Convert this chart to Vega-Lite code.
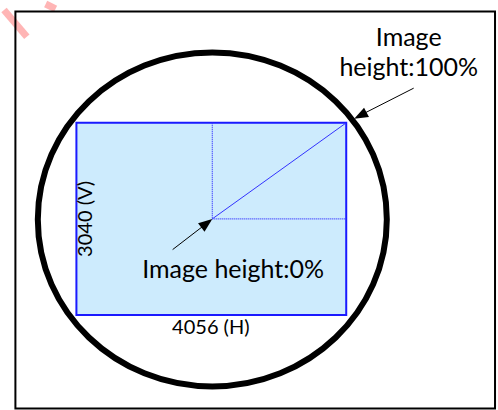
{
  "$schema": "https://vega.github.io/schema/vega-lite/v6.json",
  "width": 498,
  "height": 410,
  "autosize": {"type": "fit", "contains": "padding"},
  "padding": 0,
  "background": "white",
  "config": {"view": {"stroke": null}},
  "datasets": {
    "watermark": [{"x": 0, "y": 6, "x2": 23, "y2": 33}, {"x": 42, "y": 0, "x2": 52, "y2": 5}],
    "frame": [{"x": 11.5, "y": 7.5, "x2": 495, "y2": 408.5}],
    "circle": [{"x": 210, "y": 217.5}],
    "sensor": [{"x": 73, "y": 120, "x2": 345, "y2": 314}],
    "dotted": [{"x": 210, "y": 120, "x2": 210, "y2": 217}, {"x": 210, "y": 217, "x2": 345, "y2": 217}],
    "diag": [{"x": 210, "y": 217, "x2": 345, "y2": 120}],
    "arrows": [{"x": 170, "y": 248, "x2": 205, "y2": 221}, {"x": 413, "y": 85, "x2": 358, "y2": 113}],
    "tip0": [{"x": 210, "y": 217}],
    "tip100": [{"x": 353, "y": 116}],
    "labels": [
      {"x": 231, "y": 277, "text": "Image height:0%"},
      {"x": 408, "y": 42, "text": "Image"},
      {"x": 408, "y": 73, "text": "height:100%"}
    ],
    "small": [{"x": 208.5, "y": 333, "text": "4056 (H)"}],
    "vert": [{"x": 83, "y": 217, "text": "3040 (V)"}]
  },
  "encoding": {
    "x": {"field": "x", "type": "quantitative", "scale": {"domain": [0, 498], "nice": false, "zero": false}, "axis": null},
    "y": {"field": "y", "type": "quantitative", "scale": {"domain": [0, 410], "nice": false, "zero": false, "reverse": true}, "axis": null}
  },
  "layer": [
    {"data": {"name": "watermark"}, "mark": {"type": "rule", "color": "#ff5c5c", "opacity": 0.45, "strokeWidth": 7}, "encoding": {"x2": {"field": "x2"}, "y2": {"field": "y2"}}},
    {"data": {"name": "frame"}, "mark": {"type": "rect", "fill": null, "fillOpacity": 0, "stroke": "black", "strokeWidth": 2}, "encoding": {"x2": {"field": "x2"}, "y2": {"field": "y2"}}},
    {"data": {"name": "circle"}, "mark": {"type": "point", "shape": "M-1,0A1,0.957,0,1,1,1,0A1,0.957,0,1,1,-1,0Z", "filled": false, "stroke": "black", "strokeWidth": 6, "size": 121801, "opacity": 1}},
    {"data": {"name": "sensor"}, "mark": {"type": "rect", "fill": "#cdebfd", "stroke": "#1a1aff", "strokeWidth": 2}, "encoding": {"x2": {"field": "x2"}, "y2": {"field": "y2"}}},
    {"data": {"name": "dotted"}, "mark": {"type": "rule", "color": "#3333ff", "strokeWidth": 1.2, "strokeDash": [1, 1]}, "encoding": {"x2": {"field": "x2"}, "y2": {"field": "y2"}}},
    {"data": {"name": "diag"}, "mark": {"type": "rule", "color": "#3333ff", "strokeWidth": 1}, "encoding": {"x2": {"field": "x2"}, "y2": {"field": "y2"}}},
    {"data": {"name": "arrows"}, "mark": {"type": "rule", "color": "black", "strokeWidth": 1}, "encoding": {"x2": {"field": "x2"}, "y2": {"field": "y2"}}},
    {"data": {"name": "tip0"}, "mark": {"type": "point", "shape": "M0,0L-0.75,2L0.75,2Z", "filled": true, "color": "black", "opacity": 1, "size": 196, "angle": 52}},
    {"data": {"name": "tip100"}, "mark": {"type": "point", "shape": "M0,0L-0.75,2L0.75,2Z", "filled": true, "color": "black", "opacity": 1, "size": 196, "angle": 242}},
    {"data": {"name": "labels"}, "mark": {"type": "text", "font": "Lato", "fontSize": 25, "color": "black", "align": "center", "baseline": "alphabetic"}, "encoding": {"text": {"field": "text"}}},
    {"data": {"name": "small"}, "mark": {"type": "text", "font": "Lato", "fontSize": 20, "color": "black", "align": "center", "baseline": "alphabetic"}, "encoding": {"text": {"field": "text"}}},
    {"data": {"name": "vert"}, "mark": {"type": "text", "font": "Lato", "fontSize": 20, "color": "black", "align": "center", "baseline": "middle", "angle": 270}, "encoding": {"text": {"field": "text"}}}
  ]
}
